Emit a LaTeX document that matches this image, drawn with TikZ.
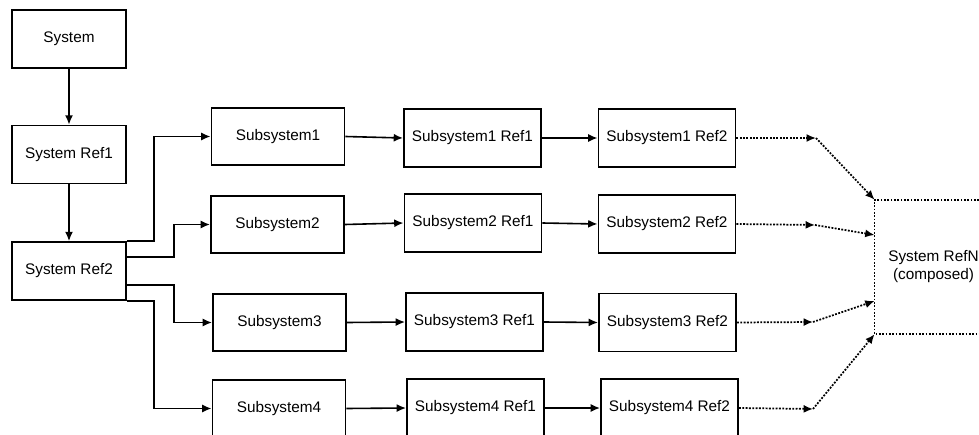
\documentclass[tikz,border=0pt]{standalone}
\usepackage{fontspec}
\setmainfont{Liberation Sans}
\usepackage{tikz}
\usetikzlibrary{arrows.meta, positioning, calc}

\begin{document}
\begin{tikzpicture}[
    x=0.75pt, y=-0.75pt,
    every node/.style={font=\fontsize{11.5}{13.5}\selectfont},
    sysbox/.style={rectangle, draw=black, line width=1.2pt, minimum width=85.5pt, minimum height=43.5pt, align=center},
    subbox/.style={rectangle, draw=black, line width=1.2pt, minimum width=100pt, minimum height=43pt, align=center},
    refbox/.style={rectangle, draw=black, line width=1.2pt, minimum width=103pt, minimum height=43.5pt, align=center},
    composed/.style={rectangle, minimum width=88pt, minimum height=100.5pt, align=center},
    arrow/.style={-{Latex[length=7pt,width=6pt]}, line width=1.2pt, draw=black},
    dotarrow/.style={-{Latex[length=7pt,width=6pt]}, line width=1.3pt, dash pattern=on 1.4pt off 1.1pt, draw=black}
]
    \useasboundingbox (0,0) rectangle (979,435);

    % Main system chain
    \node[sysbox] (sys) at (69,39) {System};
    \node[sysbox] (sysref1) at (69,154.5) {System Ref1};
    \node[sysbox] (sysref2) at (69,271) {System Ref2};

    % Subsystems
    \node[subbox] (sub1) at (278,136.5) {Subsystem1};
    \node[subbox] (sub2) at (277.5,224.5) {Subsystem2};
    \node[subbox] (sub3) at (279.5,322.5) {Subsystem3};
    \node[subbox] (sub4) at (279,408.5) {Subsystem4};

    % First refinements
    \node[refbox] (subref11) at (472.5,138) {Subsystem1 Ref1};
    \node[refbox] (subref21) at (473,223) {Subsystem2 Ref1};
    \node[refbox] (subref31) at (474.5,322) {Subsystem3 Ref1};
    \node[refbox] (subref41) at (475.5,408) {Subsystem4 Ref1};

    % Second refinements
    \node[refbox] (subref12) at (667,138) {Subsystem1 Ref2};
    \node[refbox] (subref22) at (667,224) {Subsystem2 Ref2};
    \node[refbox] (subref32) at (667.5,322.5) {Subsystem3 Ref2};
    \node[refbox] (subref42) at (669.5,408) {Subsystem4 Ref2};

    % Composed result
    \node[composed] (sysrefn) at (933.5,267) {System RefN\\(composed)};
    \draw[line width=1.3pt, dash pattern=on 1.4pt off 1.1pt] (sysrefn.north east) -- (sysrefn.north west) -- (sysrefn.south west) -- (sysrefn.south east);

    \coordinate (join1) at (816,138);
    \coordinate (join2) at (815,225);
    \coordinate (join3) at (813,322);
    \coordinate (join4) at (813,409);

    % Arrows
    \draw[arrow] (sys) -- (sysref1);
    \draw[arrow] (sysref1) -- (sysref2);

    \draw[arrow] (sysref2.north east) -- ++(27,0) |- (sub1.west);
    \draw[arrow] ([yshift=10.5pt]sysref2.east) -- ++(47,0) |- (sub2.west);
    \draw[arrow] ([yshift=-10.5pt]sysref2.east) -- ++(47,0) |- (sub3.west);
    \draw[arrow] (sysref2.south east) -- ++(27,0) |- (sub4.west);

    \draw[arrow] (sub1.east) -- (subref11.west);
    \draw[arrow] (sub2.east) -- (subref21.west);
    \draw[arrow] (sub3.east) -- (subref31.west);
    \draw[arrow] (sub4.east) -- (subref41.west);

    \draw[arrow] (subref11.east) -- (subref12.west);
    \draw[arrow] (subref21.east) -- (subref22.west);
    \draw[arrow] (subref31.east) -- (subref32.west);
    \draw[arrow] (subref41.east) -- (subref42.west);

    \draw[dotarrow] (subref12.east) -- (join1);
    \draw[dotarrow] (subref22.east) -- (join2);
    \draw[dotarrow] (subref32.east) -- (join3);
    \draw[dotarrow] (subref42.east) -- (join4);

    \draw[dotarrow] (join1) -- (sysrefn.north west);
    \draw[dotarrow] (join2) -- ([yshift=24pt]sysrefn.west);
    \draw[dotarrow] (join3) -- ([yshift=-25.5pt]sysrefn.west);
    \draw[dotarrow] (join4) -- (sysrefn.south west);

\end{tikzpicture}
\end{document}
